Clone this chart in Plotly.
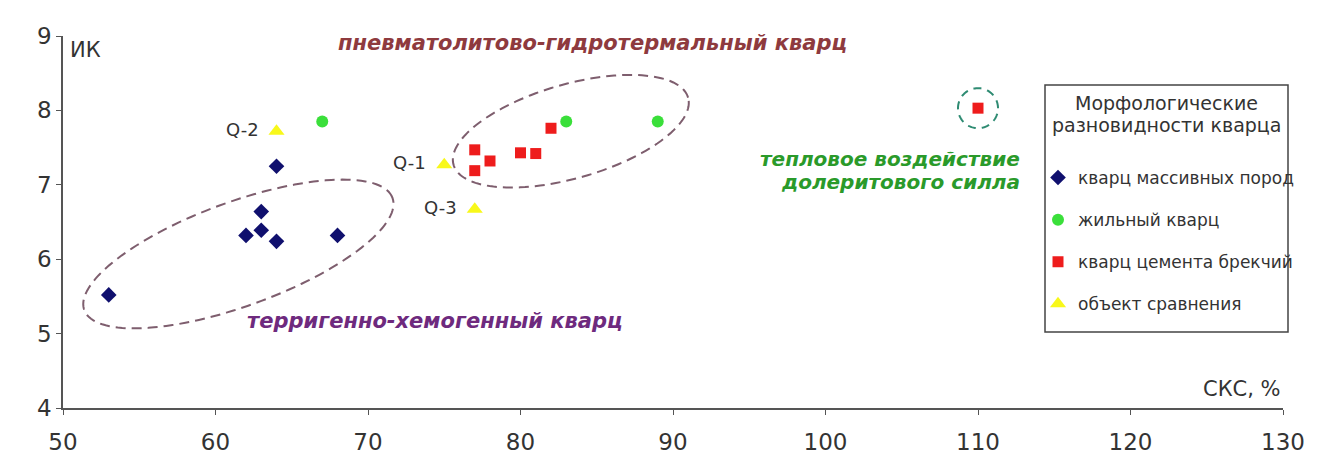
import numpy as np
import plotly.graph_objects as go

# --- data: СКС, % (x) vs ИК (y) ---
massive_x = [53, 62, 63, 63, 64, 64, 68]
massive_y = [5.52, 6.32, 6.64, 6.39, 6.24, 7.25, 6.32]

vein_x = [67, 83, 89]
vein_y = [7.85, 7.85, 7.85]

breccia_x = [77, 77, 78, 80, 81, 82, 110]
breccia_y = [7.47, 7.19, 7.32, 7.43, 7.42, 7.76, 8.03]

ref_x = [64, 75, 77]
ref_y = [7.72, 7.27, 6.67]
ref_labels = ["Q-2", "Q-1", "Q-3"]

x_ticks = [50, 60, 70, 80, 90, 100, 110, 120, 130]
y_ticks = [4, 5, 6, 7, 8, 9]

# --- layout geometry (pixels) ---
W, H = 1322, 455
M_L, M_R, M_T, M_B = 63, 39, 36, 47
PW, PH = W - M_L - M_R, H - M_T - M_B
X_RANGE = (50, 130)
Y_RANGE = (4, 9)
PX_X = PW / (X_RANGE[1] - X_RANGE[0])
PX_Y = PH / (Y_RANGE[1] - Y_RANGE[0])

FONT = "DejaVu Sans, Arial, sans-serif"
TXT = "#333333"


def px(xp):
    """Horizontal pixel -> paper fraction."""
    return (xp - M_L) / PW


def py(yp):
    """Vertical pixel (from top) -> paper fraction."""
    return (H - M_B - yp) / PH


def ellipse_path(cx, cy, a_px, b_px, angle_deg, n=140):
    """Closed SVG path for a tilted ellipse sized in screen pixels around a data-space centre."""
    t = np.linspace(0, 2 * np.pi, n)
    th = np.radians(angle_deg)
    ex = a_px * np.cos(t) * np.cos(th) - b_px * np.sin(t) * np.sin(th)
    ey = a_px * np.cos(t) * np.sin(th) + b_px * np.sin(t) * np.cos(th)
    xs = cx + ex / PX_X
    ys = cy + ey / PX_Y
    pts = [f"{x:.4f},{y:.4f}" for x, y in zip(xs, ys)]
    return "M " + " L ".join(pts) + " Z"


fig = go.Figure()

fig.add_trace(go.Scatter(
    x=massive_x, y=massive_y, mode="markers", name="кварц массивных пород",
    legendgroup="a",
    marker=dict(symbol="diamond", size=12, color="#10106e"),
))
fig.add_trace(go.Scatter(
    x=vein_x, y=vein_y, mode="markers", name="жильный кварц",
    legendgroup="b",
    marker=dict(symbol="circle", size=12, color="#3adf3a"),
))
fig.add_trace(go.Scatter(
    x=breccia_x, y=breccia_y, mode="markers", name="кварц цемента брекчий",
    legendgroup="c",
    marker=dict(symbol="square", size=11, color="#ee1c1c"),
))
fig.add_trace(go.Scatter(
    x=ref_x, y=ref_y, mode="markers", name="объект сравнения",
    legendgroup="d",
    marker=dict(symbol="triangle-up", size=14, color="#f8f81a"),
))

ELL = dict(color="#7e5e6e", width=2, dash="10px,6px")

shapes = [
    dict(type="path", xref="x", yref="y",
         path=ellipse_path(61.5, 6.07, 164, 52, 20), line=ELL),
    dict(type="path", xref="x", yref="y",
         path=ellipse_path(83.3, 7.72, 122, 47, 16), line=ELL),
    dict(type="path", xref="x", yref="y",
         path=ellipse_path(breccia_x[-1], breccia_y[-1], 20, 20, 0),
         line=dict(color="#2e8b72", width=2, dash="8px,6px")),
    # legend frame
    dict(type="rect", xref="paper", yref="paper",
         x0=px(1045), x1=px(1288), y0=py(332), y1=py(85),
         line=dict(color="#444444", width=1.5), fillcolor="rgba(255,255,255,0)"),
]

annotations = []
for x, y, lab in zip(ref_x, ref_y, ref_labels):
    annotations.append(dict(x=x, y=y, xref="x", yref="y", text=lab, showarrow=False,
                            xanchor="right", yanchor="middle", xshift=-16, yshift=2,
                            font=dict(family=FONT, size=18, color=TXT)))


def note(xp, yp, text, size, color, xanchor="center", **font_kw):
    return dict(x=px(xp), y=py(yp), xref="paper", yref="paper", text=text,
                showarrow=False, xanchor=xanchor, yanchor="middle",
                font=dict(family=FONT, size=size, color=color, **font_kw))


annotations += [
    note(68, 50, "ИК", 21, TXT, xanchor="left"),
    note(1283, 389, "СКС, %", 21, TXT, xanchor="right"),
    note(336, 43, "пневматолитово-гидротермальный кварц", 21, "#8e3a3e",
         xanchor="left", weight="bold", style="italic"),
    note(245, 321, "терригенно-хемогенный кварц", 21, "#6e2a7e",
         xanchor="left", weight="bold", style="italic"),
    note(1022, 159, "тепловое воздействие", 20, "#2a9a2a",
         xanchor="right", weight="bold", style="italic"),
    note(1022, 182, "долеритового силла", 20, "#2a9a2a",
         xanchor="right", weight="bold", style="italic"),
    note(1166, 103, "Морфологические", 19, TXT),
    note(1166, 125, "разновидности кварца", 19, TXT),
]

fig.update_layout(
    width=W, height=H,
    margin=dict(l=M_L, r=M_R, t=M_T, b=M_B),
    paper_bgcolor="white", plot_bgcolor="white",
    font=dict(family=FONT, color=TXT),
    shapes=shapes,
    annotations=annotations,
    showlegend=True,
    legend=dict(
        x=px(1038), y=py(160),
        xanchor="left", yanchor="top",
        bgcolor="rgba(0,0,0,0)", borderwidth=0,
        font=dict(family=FONT, size=17, color=TXT),
        traceorder="grouped", tracegroupgap=17,
        itemwidth=30,
    ),
    xaxis=dict(
        range=list(X_RANGE), tickvals=x_ticks, ticktext=[str(v) for v in x_ticks],
        showgrid=False, zeroline=False, showline=True, linecolor="#555555", linewidth=1.5,
        ticks="outside", ticklen=5, tickcolor="#555555",
        tickfont=dict(family=FONT, size=23, color=TXT),
        ticklabelstandoff=8, automargin=False,
    ),
    yaxis=dict(
        range=list(Y_RANGE), tickvals=y_ticks, ticktext=[str(v) for v in y_ticks],
        showgrid=False, zeroline=False, showline=True, linecolor="#555555", linewidth=1.5,
        ticks="outside", ticklen=5, tickcolor="#555555",
        tickfont=dict(family=FONT, size=23, color=TXT),
        automargin=False,
    ),
)

fig.write_html("out.html")
